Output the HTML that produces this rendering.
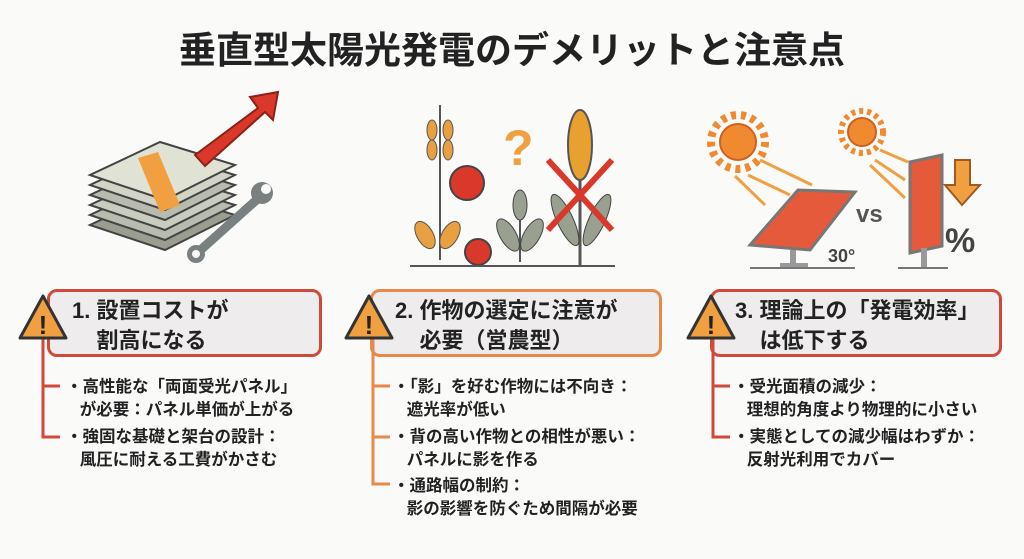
<!DOCTYPE html>
<html><head><meta charset="utf-8"><style>
body{margin:0;width:1024px;height:559px;background:#fafaf9;font-family:"Liberation Sans","Noto Sans CJK JP",sans-serif;position:relative;overflow:hidden;color:#222}
.t{position:absolute;left:0;width:1024px;top:20px;text-align:center;font-size:37px;font-weight:bold;color:#222}
.box{position:absolute;top:289px;height:68px;background:#eeecec;border:3px solid;border-radius:10px;box-sizing:border-box;font-size:22px;font-weight:bold;line-height:30px;padding:4px 0 0 22px}
.b{position:absolute;font-size:16.5px;font-weight:bold;line-height:23px;color:#222;white-space:nowrap}
</style></head><body>
<div class="t">垂直型太陽光発電のデメリットと注意点</div>

<svg width="1024" height="290" style="position:absolute;left:0;top:0">
<!-- money -->
<g stroke="#444" stroke-width="2">
<g id="bill">
<polygon points="90,225 165,250 235,215 160,192" fill="#9a9e90"/>
</g>
<polygon points="90,215 165,240 235,205 160,182" fill="#b7bcae"/>
<polygon points="90,205 165,230 235,195 160,172" fill="#c9cdbd"/>
<polygon points="90,195 165,220 235,185 160,162" fill="#b7bcae"/>
<polygon points="90,185 165,210 235,175 160,152" fill="#d2d5c6"/>
<polygon points="90,175 165,200 235,165 160,142" fill="#e0e2d4"/>
<polygon points="138,158 158,152 180,205 160,212" fill="#f0a040" stroke="none"/>
<polygon points="195,155 258,108 250,97 278,92 273,120 265,112 205,166" fill="#d9382a" stroke="#8a2218"/>
</g>
<line x1="195" y1="255" x2="262" y2="195" stroke="#7a7f80" stroke-width="9" stroke-linecap="round"/>
<circle cx="262" cy="193" r="11" fill="#7a7f80"/><circle cx="196" cy="254" r="9" fill="#7a7f80"/>
<circle cx="266" cy="189" r="5" fill="#fafaf9"/><circle cx="196" cy="254" r="4" fill="#fafaf9"/>
<!-- crops -->
<g>
<text x="503" y="165" font-size="50" font-weight="bold" fill="#f0a040" font-family="Liberation Sans">?</text>
<circle cx="467" cy="183" r="17" fill="#d9382a" stroke="#444" stroke-width="2"/>
<path d="M440,260 L440,105" stroke="#555" stroke-width="2"/>
<ellipse cx="432" cy="130" rx="5" ry="10" fill="#e8a040" stroke="#555"/><ellipse cx="448" cy="130" rx="5" ry="10" fill="#e8a040" stroke="#555"/>
<ellipse cx="432" cy="150" rx="5" ry="10" fill="#e8a040" stroke="#555"/><ellipse cx="448" cy="150" rx="5" ry="10" fill="#e8a040" stroke="#555"/>
<ellipse cx="425" cy="235" rx="8" ry="15" fill="#e8a040" stroke="#555" transform="rotate(-30 425 235)"/>
<ellipse cx="450" cy="235" rx="8" ry="15" fill="#e8a040" stroke="#555" transform="rotate(30 450 235)"/>
<circle cx="478" cy="252" r="13" fill="#d9382a" stroke="#444" stroke-width="2"/>
<path d="M520,262 L520,195" stroke="#555" stroke-width="2"/>
<ellipse cx="508" cy="235" rx="8" ry="18" fill="#9aa08f" stroke="#444" transform="rotate(-30 508 235)"/>
<ellipse cx="532" cy="235" rx="8" ry="18" fill="#9aa08f" stroke="#444" transform="rotate(30 532 235)"/>
<ellipse cx="520" cy="205" rx="7" ry="15" fill="#9aa08f" stroke="#444"/>
<path d="M580,265 L580,120" stroke="#555" stroke-width="3"/>
<ellipse cx="580" cy="145" rx="12" ry="35" fill="#e8a030" stroke="#555" stroke-width="2"/>
<ellipse cx="565" cy="220" rx="8" ry="28" fill="#9aa08f" stroke="#444" transform="rotate(-25 565 220)"/>
<ellipse cx="597" cy="220" rx="8" ry="28" fill="#9aa08f" stroke="#444" transform="rotate(25 597 220)"/>
<line x1="548" y1="160" x2="612" y2="230" stroke="#d9382a" stroke-width="6"/>
<line x1="612" y1="160" x2="548" y2="230" stroke="#d9382a" stroke-width="6"/>
<line x1="410" y1="266" x2="615" y2="266" stroke="#555" stroke-width="2"/>
</g>
<!-- solar -->
<g>
<circle cx="738" cy="142" r="18" fill="#f08a30" stroke="#d06020" stroke-width="2"/>
<circle cx="738" cy="142" r="27" fill="none" stroke="#f08a30" stroke-width="8" stroke-dasharray="5 5"/>
<circle cx="862" cy="132" r="14" fill="#f08a30" stroke="#d06020" stroke-width="2"/>
<circle cx="862" cy="132" r="21" fill="none" stroke="#f08a30" stroke-width="6" stroke-dasharray="4 4"/>
<g stroke="#f0a040" stroke-width="3">
<line x1="760" y1="160" x2="812" y2="185"/><line x1="748" y1="175" x2="790" y2="195"/><line x1="735" y1="176" x2="765" y2="205"/>
<line x1="880" y1="150" x2="908" y2="162"/><line x1="875" y1="160" x2="905" y2="180"/><line x1="870" y1="165" x2="905" y2="198"/>
</g>
<polygon points="750,245 798,190 855,192 810,250" fill="#e45a3a" stroke="#777" stroke-width="3"/>
<rect x="790" y="250" width="6" height="15" fill="#999"/><rect x="780" y="263" width="28" height="5" fill="#999"/>
<line x1="750" y1="268" x2="855" y2="268" stroke="#777" stroke-width="2"/>
<text x="828" y="262" font-size="18" font-weight="bold" fill="#444">30°</text>
<text x="856" y="222" font-size="24" font-weight="bold" fill="#555">vs</text>
<polygon points="910,162 942,155 942,246 910,253" fill="#e45a3a" stroke="#777" stroke-width="3"/>
<rect x="921" y="248" width="6" height="20" fill="#999"/>
<line x1="898" y1="268" x2="948" y2="268" stroke="#777" stroke-width="2"/>
<polygon points="955,160 970,160 970,185 980,185 962,205 945,185 955,185" fill="#f0a040" stroke="#a05a20" stroke-width="2"/>
<text x="945" y="252" font-size="34" font-weight="bold" fill="#444">%</text>
</g>
</svg>

<div class="box" style="left:47px;width:275px;border-color:#d04a3c">1. 設置コストが<br>&nbsp;&nbsp;&nbsp;&nbsp;割高になる</div>
<div class="box" style="left:370px;width:292px;border-color:#e8884a">2. 作物の選定に注意が<br>&nbsp;&nbsp;&nbsp;&nbsp;必要（営農型）</div>
<div class="box" style="left:710px;width:292px;border-color:#d04a3c">3. 理論上の「発電効率」<br>&nbsp;&nbsp;&nbsp;&nbsp;は低下する</div>

<svg width="1024" height="559" style="position:absolute;left:0;top:0">
<g stroke="#d04a3c" stroke-width="3" fill="none">
<path d="M43,337 V437 H60 M43,386 H60"/>
<path d="M713,337 V437 H730 M713,386 H730"/>
</g>
<g stroke="#e8884a" stroke-width="3" fill="none">
<path d="M373,337 V484 H390 M373,386 H390 M373,437 H390"/>
</g>
<g stroke="#333" stroke-width="3" stroke-linejoin="round">
<polygon points="43,296 66,338 20,338" fill="#f0a040"/>
<polygon points="369,296 392,338 346,338" fill="#f0a040"/>
<polygon points="711,296 734,338 688,338" fill="#f0a040"/>
</g>
<g font-size="26" font-weight="bold" fill="#222" text-anchor="middle"><text x="43" y="334">!</text><text x="369" y="334">!</text><text x="711" y="334">!</text></g>
</svg>

<div class="b" style="left:66px;top:376px">・高性能な「両面受光パネル」<br>&nbsp;&nbsp;&nbsp;が必要：パネル単価が上がる</div>
<div class="b" style="left:66px;top:426px">・強固な基礎と架台の設計：<br>&nbsp;&nbsp;&nbsp;風圧に耐える工費がかさむ</div>
<div class="b" style="left:393px;top:376px">・「影」を好む作物には不向き：<br>&nbsp;&nbsp;&nbsp;遮光率が低い</div>
<div class="b" style="left:393px;top:426px">・背の高い作物との相性が悪い：<br>&nbsp;&nbsp;&nbsp;パネルに影を作る</div>
<div class="b" style="left:393px;top:475px">・通路幅の制約：<br>&nbsp;&nbsp;&nbsp;影の影響を防ぐため間隔が必要</div>
<div class="b" style="left:733px;top:376px">・受光面積の減少：<br>&nbsp;&nbsp;&nbsp;理想的角度より物理的に小さい</div>
<div class="b" style="left:733px;top:426px">・実態としての減少幅はわずか：<br>&nbsp;&nbsp;&nbsp;反射光利用でカバー</div>
</body></html>
